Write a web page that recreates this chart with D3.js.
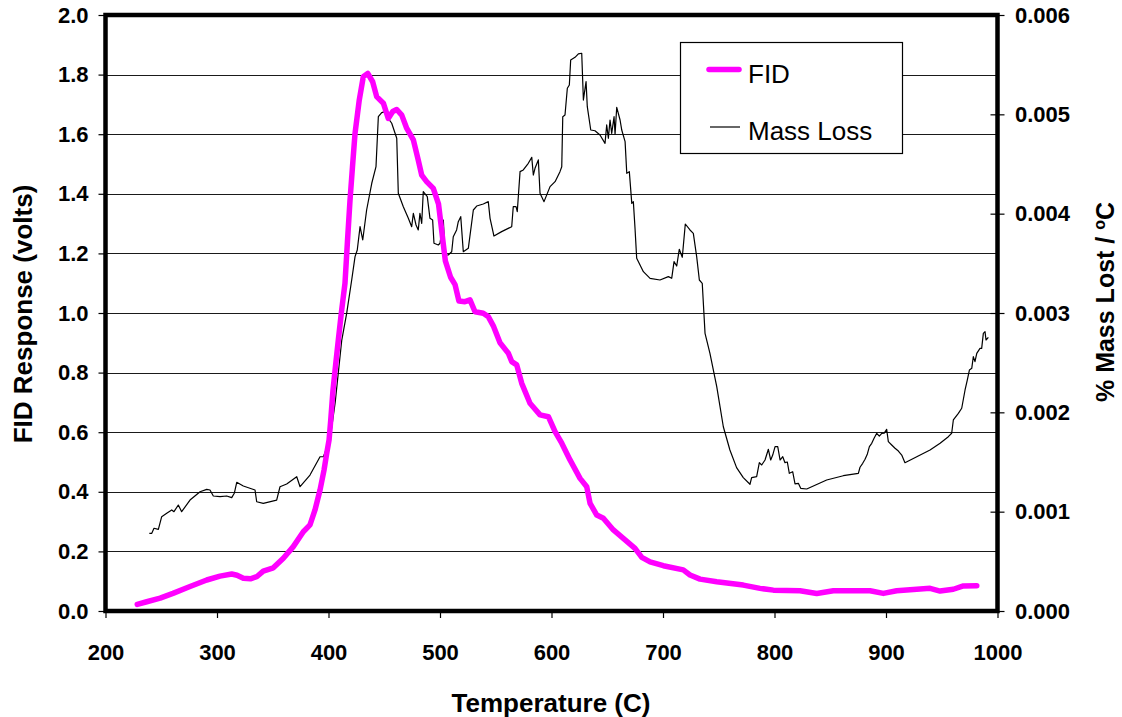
<!DOCTYPE html>
<html>
<head>
<meta charset="utf-8">
<script src="https://cdn.jsdelivr.net/npm/d3@7"></script>
<style>
  html, body { margin: 0; padding: 0; background: #fff; }
  svg { display: block; font-family: "Liberation Sans", Arial, sans-serif; }
</style>
</head>
<body>
<svg id="chart" width="1122" height="717"></svg>
<script>
// ---------- DATA ----------
const fidTemp = [228.5,237,249,260.5,275.8,290.8,302.7,313.2,318,323.6,330,335.6,341.5,350.5,359.5,368.4,377.4,383.4,387.9,392.4,396,398.4,400.5,402,404,406.5,408.8,411.5,414.8,417,419.3,421.5,423.8,427.6,431.2,435.2,439.6,443.2,449.2,453.6,457.6,461.2,465.7,470.1,476.1,480.5,483.6,488,494,498.7,500.8,503,504.8,509.5,513.5,517,522.4,526.9,531.4,538.8,543.3,547.8,553.8,561.3,564.3,568.8,573.3,580.7,589.7,597.2,603.2,609.2,616.6,625.6,631.6,634.6,640.6,646.5,655.5,664.4,674.9,681,688.4,700.3,718.2,724.2,733.2,748.2,772,787,799,822.9,837.9,852.8,867.8,885.7,897.6,909.6,927.6,939.5,948.5,960.4,969.4,981.4];
const fidValues = [0.022,0.031,0.043,0.059,0.082,0.104,0.117,0.124,0.120,0.110,0.108,0.115,0.134,0.145,0.177,0.216,0.266,0.289,0.339,0.406,0.473,0.529,0.574,0.640,0.740,0.830,0.909,1.000,1.100,1.240,1.379,1.490,1.603,1.715,1.793,1.804,1.776,1.726,1.704,1.653,1.676,1.683,1.664,1.620,1.581,1.513,1.463,1.441,1.418,1.365,1.300,1.230,1.175,1.120,1.095,1.040,1.038,1.044,1.004,0.999,0.988,0.957,0.900,0.865,0.837,0.826,0.764,0.697,0.658,0.652,0.602,0.563,0.507,0.445,0.417,0.361,0.322,0.311,0.272,0.244,0.210,0.180,0.165,0.152,0.138,0.121,0.107,0.098,0.087,0.076,0.070,0.068,0.059,0.068,0.068,0.068,0.059,0.068,0.073,0.076,0.067,0.073,0.084,0.085];

const massTemp = [239.3,241.5,243.5,247.4,250.4,254.9,259.4,261.4,265.3,268.3,275.8,284.8,290.8,293.7,296.7,302.7,308.7,313.2,315.5,317.7,323.6,334.1,335.6,341.5,353.5,356.5,362.5,371.5,374.5,383.4,392.4,395.4,401.3,406,411.9,416.3,420.8,423.8,425.8,428.3,430.7,434.2,438.8,442.6,444.7,447.7,450.7,453.6,456.7,461.2,462.6,467.1,471.6,474.6,476.1,478.5,480.5,482,483.6,485,488.6,491,493.4,494.6,498.5,500,503,504.5,507.4,510.5,511.9,514.9,516.4,518.6,520.9,525.4,529.9,532.9,538.8,543.3,544.9,548.4,555.3,564.3,565.7,568.2,569.3,571.8,574.7,579.2,582.3,583.7,585.2,588.2,589.7,593.3,598.7,603.2,607.6,609.2,610.1,612.1,614.2,616,617.2,621.1,624.1,627.1,628.6,631,632.1,635.2,639,643.5,648,649.5,651,652.5,654,656.1,657,658.5,661.5,663,666,667.5,669.8,672,673.4,674.9,676.4,682.4,688.4,697.3,704.8,707.8,709.9,712.3,714.6,717.3,720,724.2,727.2,730.2,732.6,735.2,737.7,742.1,748.2,754.1,760,766,772,778,779.5,784,786.4,788.5,791.5,794.5,796.6,798.4,800.5,802.9,805,807.4,809.4,811.5,813.3,816.3,818.4,821.4,823.5,828.9,846.8,861.7,875.2,876.7,879.1,881.2,883.3,885.1,887.2,889.3,891.7,894,896.2,898.4,900.6,902.1,905.1,908.1,911.1,914.1,917,927.6,939.5,948.5,955.9,958.9,960.4,964.9,967.9,970.9,972.9,974.8,976.9,978.3,979.8,981.4,984.3,985.8,987.3,988.8,989.7,991.8];
const massValues = [0.000782,0.000782,0.000833,0.000822,0.000950,0.000984,0.001017,0.001000,0.001067,0.001000,0.001117,0.001201,0.001225,0.001218,0.001158,0.001151,0.001158,0.001141,0.001185,0.001296,0.001258,0.001218,0.001100,0.001084,0.001117,0.001251,0.001279,0.001352,0.001251,0.001369,0.001553,0.001553,0.001722,0.002100,0.002728,0.002997,0.003332,0.003567,0.003634,0.003869,0.003735,0.004037,0.004306,0.004474,0.004976,0.005017,0.005027,0.004960,0.004910,0.004759,0.004205,0.004070,0.003953,0.003869,0.004003,0.003886,0.003836,0.004003,0.003903,0.004221,0.004171,0.003953,0.003936,0.003702,0.003685,0.003702,0.003936,0.003584,0.003584,0.003617,0.003768,0.003836,0.003919,0.003970,0.003617,0.003651,0.004037,0.004077,0.004097,0.004121,0.003953,0.003775,0.003819,0.003869,0.004070,0.004070,0.004020,0.004423,0.004440,0.004507,0.004567,0.004389,0.004457,0.004541,0.004205,0.004121,0.004272,0.004322,0.004423,0.004473,0.004976,0.004993,0.005262,0.005295,0.005547,0.005574,0.005608,0.005615,0.005144,0.005329,0.005077,0.004842,0.004835,0.004792,0.004708,0.004893,0.004759,0.004943,0.004809,0.004976,0.004800,0.005071,0.004943,0.004842,0.004725,0.004406,0.004423,0.004104,0.004121,0.003853,0.003551,0.003416,0.003349,0.003332,0.003366,0.003349,0.003517,0.003473,0.003641,0.003561,0.003896,0.003836,0.003802,0.003567,0.003332,0.003299,0.002795,0.002594,0.002258,0.001855,0.001621,0.001443,0.001343,0.001276,0.001342,0.001352,0.001493,0.001470,0.001520,0.001628,0.001520,0.001570,0.001654,0.001654,0.001520,0.001553,0.001493,0.001500,0.001386,0.001402,0.001279,0.001285,0.001235,0.001228,0.001319,0.001362,0.001386,0.001447,0.001487,0.001527,0.001581,0.001654,0.001688,0.001739,0.001789,0.001760,0.001789,0.001790,0.001829,0.001705,0.001671,0.001638,0.001610,0.001570,0.001493,0.001553,0.001621,0.001688,0.001755,0.001789,0.001923,0.001990,0.002041,0.002225,0.002325,0.002426,0.002443,0.002560,0.002510,0.002594,0.002644,0.002644,0.002795,0.002812,0.002728,0.002755];

const xTicks = [200,300,400,500,600,700,800,900,1000];
const leftTicks = [0,0.2,0.4,0.6,0.8,1.0,1.2,1.4,1.6,1.8,2.0];
const rightTicks = [0,0.001,0.002,0.003,0.004,0.005,0.006];
const gridTicks = [0.2,0.4,0.6,0.8,1.0,1.2,1.4,1.6,1.8];
const seriesNames = ["FID","Mass Loss"];

// ---------- LAYOUT ----------
const X0 = 105.5, X1 = 997.5, Y0 = 15, Y1 = 611;
const svg = d3.select("#chart");

const x = d3.scaleLinear().domain([200,1000]).range([X0,X1]);
const yL = d3.scaleLinear().domain([0,2]).range([Y1,Y0]);
const yR = d3.scaleLinear().domain([0,0.006]).range([Y1,Y0]);

// gridlines
svg.append("g").selectAll("line").data(gridTicks).join("line")
  .attr("x1", X0).attr("x2", X1)
  .attr("y1", d => Math.round(yL(d)) + 0.5).attr("y2", d => Math.round(yL(d)) + 0.5)
  .attr("stroke", "#1a1a1a").attr("stroke-width", 1);

// axes
const tickFont = g => g.selectAll("text")
  .attr("font-size", 22).attr("font-weight", "bold").attr("fill", "#000")
  .attr("font-family", "'Liberation Sans', Arial, sans-serif");

const gl = svg.append("g").attr("transform", `translate(${X0},0)`)
  .call(d3.axisLeft(yL).tickValues(leftTicks).tickFormat(d3.format(".1f")).tickSize(7).tickPadding(10));
gl.select(".domain").remove();
gl.selectAll("line").attr("stroke", "#000").attr("stroke-width", 1.2);
tickFont(gl);

const gr = svg.append("g").attr("transform", `translate(${X1},0)`)
  .call(d3.axisRight(yR).tickValues(rightTicks).tickFormat(d3.format(".3f")).tickSize(7).tickPadding(10));
gr.select(".domain").remove();
gr.selectAll("line").attr("x1", -7).attr("x2", 7).attr("stroke", "#000").attr("stroke-width", 1.2);
gr.selectAll("text").attr("x", 17.5);
tickFont(gr);

const gb = svg.append("g").attr("transform", `translate(0,${Y1})`)
  .call(d3.axisBottom(x).tickValues(xTicks).tickFormat(d3.format("d")).tickSize(7));
gb.select(".domain").remove();
gb.selectAll("line").attr("stroke", "#000").attr("stroke-width", 1.2);
gb.selectAll("text").attr("dy", null).attr("y", 49);
tickFont(gb);

// series lines
const massLine = d3.line().x((d,i) => x(massTemp[i])).y(d => yR(d));
svg.append("path").datum(massValues)
  .attr("d", massLine).attr("fill", "none")
  .attr("stroke", "#000").attr("stroke-width", 1.2).attr("stroke-linejoin", "round");

const fidLine = d3.line().x((d,i) => x(fidTemp[i])).y(d => yL(d));
svg.append("path").datum(fidValues)
  .attr("d", fidLine).attr("fill", "none")
  .attr("stroke", "#ff00ff").attr("stroke-width", 5.5)
  .attr("stroke-linejoin", "round").attr("stroke-linecap", "round");

// frame
svg.append("rect").attr("x", X0).attr("y", Y0).attr("width", X1 - X0).attr("height", Y1 - Y0)
  .attr("fill", "none").attr("stroke", "#000").attr("stroke-width", 4.5);

// legend
const lg = svg.append("g");
lg.append("rect").attr("x", 680.5).attr("y", 42.5).attr("width", 222).attr("height", 111)
  .attr("fill", "#fff").attr("stroke", "#000").attr("stroke-width", 1.2);
lg.append("line").attr("x1", 709).attr("x2", 739).attr("y1", 69.5).attr("y2", 69.5)
  .attr("stroke", "#ff00ff").attr("stroke-width", 5.5).attr("stroke-linecap", "round");
lg.append("line").attr("x1", 710).attr("x2", 740).attr("y1", 127).attr("y2", 127)
  .attr("stroke", "#000").attr("stroke-width", 1.2);
lg.selectAll("text.lt").data(seriesNames).join("text").attr("class", "lt")
  .attr("x", 748).attr("y", (d,i) => i === 0 ? 83 : 140)
  .attr("font-size", 26).attr("fill", "#000").text(d => d);

// axis titles
svg.append("text").attr("x", 551).attr("y", 712).attr("text-anchor", "middle")
  .attr("font-size", 26).attr("font-weight", "bold").text("Temperature (C)");

svg.append("text").attr("transform", "translate(32,314) rotate(-90)").attr("text-anchor", "middle")
  .attr("font-size", 26).attr("font-weight", "bold").text("FID Response (volts)");

const rt = svg.append("text").attr("transform", "translate(1114,302) rotate(-90)").attr("text-anchor", "middle")
  .attr("font-size", 25).attr("font-weight", "bold");
rt.append("tspan").text("% Mass Lost / ");
rt.append("tspan").attr("font-size", 16).attr("dy", -9).text("o");
rt.append("tspan").attr("dy", 9).text("C");
</script>
</body>
</html>
